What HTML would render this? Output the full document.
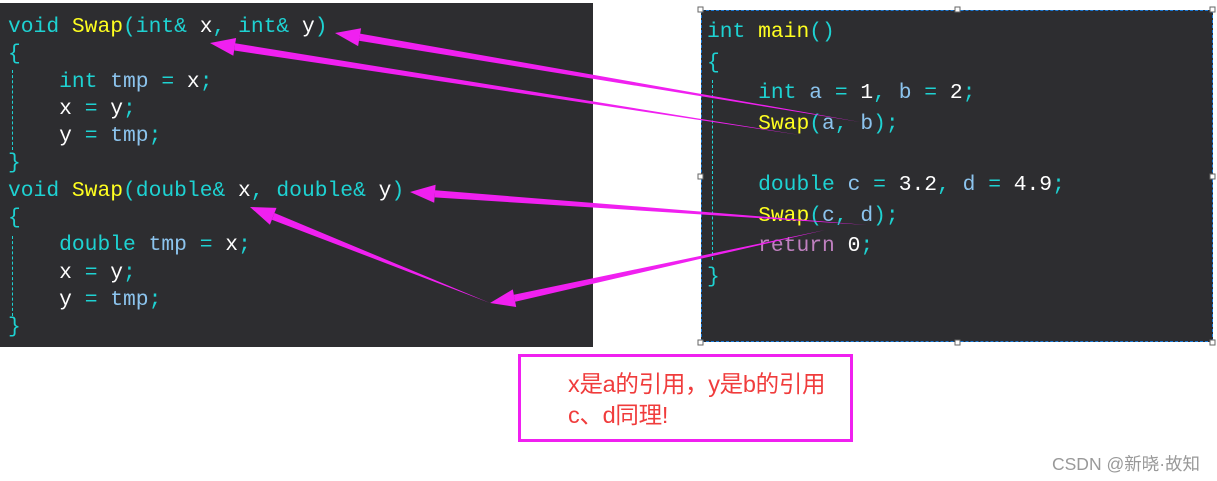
<!DOCTYPE html>
<html><head><meta charset="utf-8"><style>
body{margin:0;width:1217px;height:481px;background:#fff;position:relative;overflow:hidden}
.p{position:absolute;background:#2d2d30}
.c{position:absolute;font-family:"Liberation Mono",monospace;font-size:21.3px;white-space:pre;line-height:27.3px;color:#fff}
.k{color:#1ed2d2}.f{color:#ffff20}.v{color:#8cc4ee}.w{color:#f0f0f0}.r{color:#c080c0}
.g{position:absolute;border-left:1px dashed #1ed2d2}
</style></head><body>
<div class="p" style="left:0;top:3px;width:593px;height:344px"></div>
<div class="g" style="left:12px;top:70px;height:80px"></div>
<div class="g" style="left:12px;top:236px;height:80px"></div>
<div class="c" style="left:8px;top:14px"><span class="k">void</span> <span class="f">Swap</span><span class="k">(int&amp;</span> x<span class="k">,</span> <span class="k">int&amp;</span> y<span class="k">)</span>
<span class="k">{</span>
    <span class="k">int</span> <span class="v">tmp</span> <span class="k">=</span> x<span class="k">;</span>
    x <span class="k">=</span> y<span class="k">;</span>
    y <span class="k">=</span> <span class="v">tmp</span><span class="k">;</span>
<span class="k">}</span>
<span class="k">void</span> <span class="f">Swap</span><span class="k">(double&amp;</span> x<span class="k">,</span> <span class="k">double&amp;</span> y<span class="k">)</span>
<span class="k">{</span>
    <span class="k">double</span> <span class="v">tmp</span> <span class="k">=</span> x<span class="k">;</span>
    x <span class="k">=</span> y<span class="k">;</span>
    y <span class="k">=</span> <span class="v">tmp</span><span class="k">;</span>
<span class="k">}</span></div>
<div class="p" style="left:701px;top:10px;width:512px;height:332px;border:1px dashed #1a7ad8;box-sizing:border-box"></div>
<div class="g" style="left:712px;top:80px;height:180px"></div>
<div class="c" style="left:707px;top:17px;line-height:30.6px"><span class="k">int</span> <span class="f">main</span><span class="k">()</span>
<span class="k">{</span>
    <span class="k">int</span> <span class="v">a</span> <span class="k">=</span> 1<span class="k">,</span> <span class="v">b</span> <span class="k">=</span> 2<span class="k">;</span>
    <span class="f">Swap</span><span class="k">(</span><span class="v">a</span><span class="k">,</span> <span class="v">b</span><span class="k">);</span>

    <span class="k">double</span> <span class="v">c</span> <span class="k">=</span> 3.2<span class="k">,</span> <span class="v">d</span> <span class="k">=</span> 4.9<span class="k">;</span>
    <span class="f">Swap</span><span class="k">(</span><span class="v">c</span><span class="k">,</span> <span class="v">d</span><span class="k">);</span>
    <span class="r">return</span> 0<span class="k">;</span>
<span class="k">}</span></div>
<svg style="position:absolute;left:0;top:0" width="1217" height="481">
<g fill="#f020f0">
<polygon points="860,122 359,40.8 360,33.6"/><polygon points="335,33 358.1,46.1 361.1,28.3"/>
<polygon points="800,135 234.3,50.5 235.1,43.3"/><polygon points="210,43 233.3,55.8 236.1,38"/>
<polygon points="867,225 434.6,197.4 435.1,190.2"/><polygon points="410,192 434.2,202.8 435.6,184.8"/>
<polygon points="825,230 515.2,301.7 513.8,294.7"/><polygon points="490,303 516.2,307 512.8,289.4"/>
<polygon points="490,303 271.9,219.7 274.5,213"/><polygon points="250,207 269.9,224.7 276.5,207.9"/>
</g>
<g fill="#fff" stroke="#666" stroke-width="1">
<rect x="698" y="7" width="5" height="5"/><rect x="955" y="7" width="5" height="5"/><rect x="1210" y="7" width="5" height="5"/>
<rect x="698" y="174" width="5" height="5"/><rect x="1210" y="174" width="5" height="5"/>
<rect x="698" y="340" width="5" height="5"/><rect x="955" y="340" width="5" height="5"/><rect x="1210" y="340" width="5" height="5"/>
</g>
</svg>
<div style="position:absolute;left:518px;top:354px;width:335px;height:88px;border:3px solid #f020f0;box-sizing:border-box"></div>
<div style="position:absolute;left:568px;top:369px;font-family:'Liberation Sans','Noto Sans CJK SC',sans-serif;font-size:23.5px;line-height:31px;color:#f03c3c;white-space:pre;letter-spacing:-0.3px">x是a的引用，y是b的引用
c、d同理!</div>
<div style="position:absolute;left:1052px;top:451px;font-family:'Liberation Sans','Noto Sans CJK SC',sans-serif;font-size:17.5px;color:#999;white-space:pre">CSDN @新晓·故知</div>
</body></html>
